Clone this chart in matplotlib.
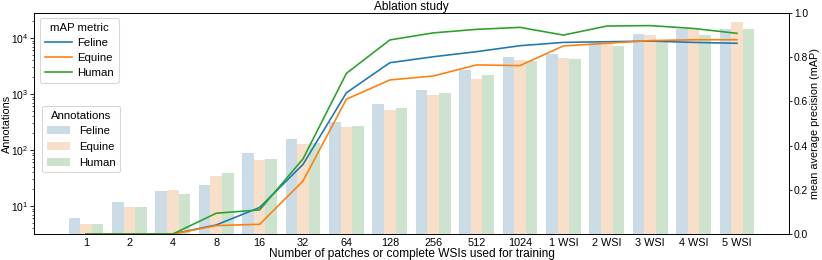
import matplotlib
matplotlib.use("Agg")
import matplotlib.pyplot as plt
import numpy as np

plt.rcParams['font.family'] = ['Liberation Sans', 'DejaVu Sans']
plt.rcParams['font.size'] = 10

categories = ["1", "2", "4", "8", "16", "32", "64", "128", "256", "512", "1024",
              "1 WSI", "2 WSI", "3 WSI", "4 WSI", "5 WSI"]
species = ["Feline", "Equine", "Human"]

ann_feline = [6.0, 11.6, 18.5, 24, 87, 157, 316, 663, 1178, 2683, 4580, 5180, 8035, 11650, 14290, 14660]
ann_equine = [4.8, 9.5, 19.3, 34.3, 66, 126, 254, 518, 948, 1853, 3966, 4448, 7720, 11320, 14290, 19060]
ann_human = [4.8, 9.5, 16.2, 39.3, 69, 132, 272, 562, 1043, 2184, 3933, 4166, 7197, 9210, 11460, 14490]

map_feline = [0.0, 0.0, 0.0, 0.041, 0.12, 0.315, 0.639, 0.775, 0.802, 0.825, 0.852, 0.867, 0.870, 0.873, 0.867, 0.863]
map_equine = [0.0, 0.0, 0.0, 0.038, 0.044, 0.24, 0.61, 0.697, 0.715, 0.765, 0.762, 0.851, 0.863, 0.875, 0.879, 0.879]
map_human = [0.0, 0.0, 0.0, 0.094, 0.109, 0.34, 0.727, 0.878, 0.91, 0.926, 0.935, 0.90, 0.941, 0.943, 0.93, 0.908]

line_colors = ["#1f77b4", "#ff7f0e", "#2ca02c"]
bar_colors = ["#3274a1", "#e1812c", "#3a923a"]

DPI = 78
fig = plt.figure(figsize=(822 / DPI, 260 / DPI), dpi=DPI)
ax = fig.add_axes([34/822, 26/260, 755/822, 221/260])
x = np.arange(len(categories))
w = 0.8 / 3
bar_handles = []
for i, (vals, c, name) in enumerate(zip([ann_feline, ann_equine, ann_human], bar_colors, species)):
    b = ax.bar(x + (i - 1) * w, vals, width=w, color=c, alpha=0.25, label=name, linewidth=0)
    bar_handles.append(b)
ax.set_yscale('log')
ax.set_ylim(3.16, 27900)
ax.set_xlim(-1.2, 16.2)
ax.set_xticks(x)
ax.set_xticklabels(categories)
ax.tick_params(axis='x', length=0)
ax.tick_params(axis='y', which='major', labelsize=9.5, pad=2)
ax.set_ylabel("Annotations", fontsize=10)
ax.yaxis.set_label_coords(-0.0289, 0.5)
ax.set_xlabel("Number of patches or complete WSIs used for training", fontsize=11, labelpad=0)
ax.set_title("Ablation study", fontsize=11, pad=1)

ax2 = ax.twinx()
line_handles = []
for vals, c, name in zip([map_feline, map_equine, map_human], line_colors, species):
    l, = ax2.plot(x, vals, color=c, lw=1.5, label=name)
    line_handles.append(l)
ax2.set_ylim(0, 1.0)
ax2.tick_params(axis='y', labelsize=9.5, length=2.5, pad=2)
ax2.set_ylabel("mean average precision (mAP)", fontsize=10)
ax2.yaxis.set_label_coords(1.0272, 0.5)

leg1 = ax2.legend(handles=line_handles, title="mAP metric", loc='upper left',
                  bbox_to_anchor=(0.008, 0.977), borderaxespad=0, fontsize=10.5,
                  title_fontsize=10.5, handlelength=2.4, handletextpad=0.5,
                  labelspacing=0.45)
ax2.add_artist(leg1)
leg2 = ax2.legend(handles=bar_handles, title="Annotations", loc='upper left',
                  bbox_to_anchor=(0.011, 0.579), borderaxespad=0, fontsize=10.5,
                  title_fontsize=10.5, labelspacing=0.5)

fig.savefig("out.png", dpi=DPI)
